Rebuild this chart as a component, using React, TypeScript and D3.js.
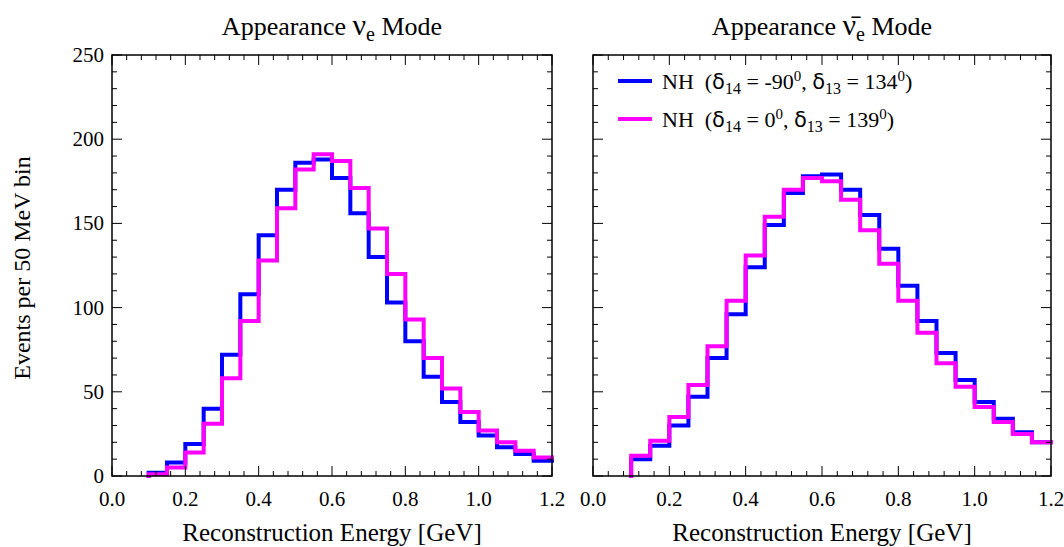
import * as d3 from 'd3'

// bin edges 0.10 .. 1.20 GeV, 50 MeV bins
const binEdges = d3.range(0.1, 1.2001, 0.05).map(v => +v.toFixed(2))

const nuBlue = [2, 8, 19, 40, 72, 108, 143, 170, 186, 188, 177, 156, 130, 103, 80, 59, 44, 32, 24, 17, 13, 9]
const nuMagenta = [1, 5, 14, 31, 58, 92, 128, 159, 182, 191, 187, 171, 147, 120, 93, 70, 52, 38, 27, 20, 15, 11]
const nubarBlue = [10, 18, 30, 47, 70, 96, 124, 149, 168, 178, 179, 170, 155, 135, 113, 92, 73, 57, 44, 34, 26, 20]
const nubarMagenta = [12, 21, 35, 54, 77, 104, 131, 154, 170, 177, 175, 164, 146, 126, 104, 85, 67, 53, 41, 32, 25, 20]

const xTicks = [0, 0.2, 0.4, 0.6, 0.8, 1.0, 1.2]
const yTicks = [0, 50, 100, 150, 200, 250]

const BLUE = '#0000ff'
const MAGENTA = '#ff00ff'
const FONT = '"Liberation Serif", "Times New Roman", serif'
const GREEK = '"DejaVu Sans", sans-serif'

const top = 55
const bottom = 476

const yScale = d3.scaleLinear().domain([0, 250]).range([bottom, top])

interface PanelProps {
  x0: number
  x1: number
  blue: number[]
  magenta: number[]
  showYLabels: boolean
}

const Panel = ({ x0, x1, blue, magenta, showYLabels }: PanelProps) => {
  const xScale = d3.scaleLinear().domain([0, 1.2]).range([x0, x1])

  const step = d3.line<[number, number]>()
    .x(d => xScale(d[0]))
    .y(d => yScale(d[1]))
    .curve(d3.curveStepAfter)

  const toPoints = (vals: number[]): [number, number][] => {
    const pts: [number, number][] = [[binEdges[0], 0]]
    vals.forEach((v, i) => pts.push([binEdges[i], v]))
    pts.push([binEdges[binEdges.length - 1], vals[vals.length - 1]])
    return pts
  }

  const xMinor = d3.range(0, 1.2001, 0.04)
  const yMinor = d3.range(0, 250.1, 10)

  return (
    <g>
      {/* histograms */}
      <path d={step(toPoints(blue)) || ''} fill="none" stroke={BLUE} strokeWidth={4} strokeLinecap="square" />
      <path d={step(toPoints(magenta)) || ''} fill="none" stroke={MAGENTA} strokeWidth={4} strokeLinecap="square" />

      {/* frame */}
      <rect x={x0} y={top} width={x1 - x0} height={bottom - top} fill="none" stroke="#000" strokeWidth={1.5} />

      {/* ticks on all four sides, pointing inward */}
      {xMinor.map((t, i) => {
        const major = xTicks.some(m => Math.abs(m - t) < 1e-6)
        const len = major ? 10 : 5
        const x = xScale(t)
        return (
          <g key={'x' + i} stroke="#000" strokeWidth={1}>
            <line x1={x} x2={x} y1={bottom} y2={bottom - len} />
            <line x1={x} x2={x} y1={top} y2={top + len} />
          </g>
        )
      })}
      {yMinor.map((t, i) => {
        const major = yTicks.includes(Math.round(t))
        const len = major ? 10 : 5
        const y = yScale(t)
        return (
          <g key={'y' + i} stroke="#000" strokeWidth={1}>
            <line x1={x0} x2={x0 + len} y1={y} y2={y} />
            <line x1={x1} x2={x1 - len} y1={y} y2={y} />
          </g>
        )
      })}

      {/* tick labels */}
      {xTicks.map(t => (
        <text key={'xl' + t} x={xScale(t)} y={506} textAnchor="middle" fontFamily={FONT} fontSize={21}>
          {t.toFixed(1)}
        </text>
      ))}
      {showYLabels && yTicks.map(t => (
        <text key={'yl' + t} x={x0 - 8} y={yScale(t) + 7} textAnchor="end" fontFamily={FONT} fontSize={21}>
          {t}
        </text>
      ))}

      <text x={(x0 + x1) / 2} y={541} textAnchor="middle" fontFamily={FONT} fontSize={25}>
        Reconstruction Energy [GeV]
      </text>
    </g>
  )
}

const LegendRow = ({ y, color, d14, d13 }: { y: number; color: string; d14: string; d13: string }) => (
  <g>
    <line x1={618} x2={652} y1={y} y2={y} stroke={color} strokeWidth={4} />
    <text x={662} y={y + 8} fontFamily={FONT} fontSize={22}>
      {'NH\u00a0\u00a0('}
      <tspan fontFamily={GREEK} fontSize={21}>δ</tspan>
      <tspan fontSize={16} dy={5}>{'14'}</tspan>
      <tspan dy={-5}>{' = ' + d14}</tspan>
      <tspan fontSize={15} dy={-8}>0</tspan>
      <tspan dy={8}>{', '}</tspan>
      <tspan fontFamily={GREEK} fontSize={21}>δ</tspan>
      <tspan fontSize={16} dy={5}>{'13'}</tspan>
      <tspan dy={-5}>{' = ' + d13}</tspan>
      <tspan fontSize={15} dy={-8}>0</tspan>
      <tspan dy={8}>)</tspan>
    </text>
  </g>
)

export default function App() {
  return (
    <svg width={1064} height={547} style={{ position: 'absolute', left: 0, top: 0, background: '#fff' }}>
      <Panel x0={112} x1={552} blue={nuBlue} magenta={nuMagenta} showYLabels />
      <Panel x0={593} x1={1051} blue={nubarBlue} magenta={nubarMagenta} showYLabels={false} />

      <text x={332} y={35} textAnchor="middle" fontFamily={FONT} fontSize={26}>
        {'Appearance '}
        <tspan fontSize={30}>ν</tspan>
        <tspan fontSize={20} dy={6}>e</tspan>
        <tspan dy={-6}>{' Mode'}</tspan>
      </text>
      <text x={822} y={35} textAnchor="middle" fontFamily={FONT} fontSize={26}>
        {'Appearance '}
        <tspan fontSize={30}>{'ν\u0304'}</tspan>
        <tspan fontSize={20} dy={6}>e</tspan>
        <tspan dy={-6}>{' Mode'}</tspan>
      </text>

      <text transform="translate(30,268) rotate(-90)" textAnchor="middle" fontFamily={FONT} fontSize={24}>
        Events per 50 MeV bin
      </text>

      <LegendRow y={81} color={BLUE} d14="-90" d13="134" />
      <LegendRow y={119} color={MAGENTA} d14="0" d13="139" />
    </svg>
  )
}
